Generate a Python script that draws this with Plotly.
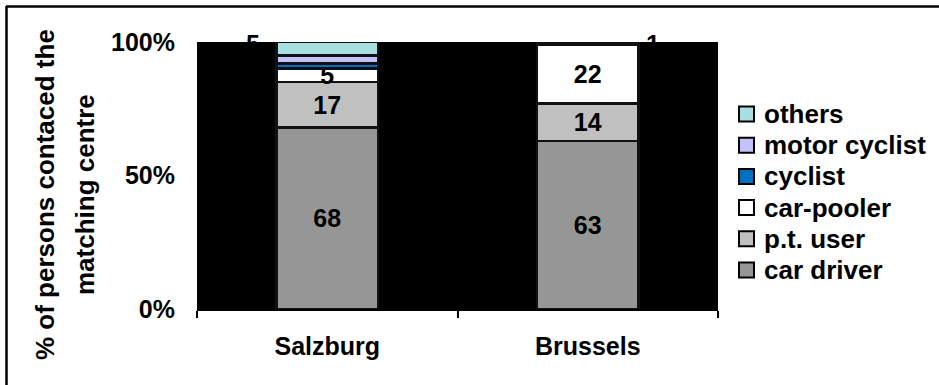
import plotly.graph_objects as go

cities = ["Salzburg", "Brussels"]
series_names = ["car driver", "p.t. user", "car-pooler", "cyclist", "motor cyclist", "others"]
car_driver = [68, 63]
pt_user = [17, 14]
car_pooler = [5, 22]
cyclist = [2, 0]
motor_cyclist = [3, 0]
others = [5, 1]
ytick_vals = [0, 50, 100]
ytick_text = ["0%", "50%", "100%"]
ytitle_lines = ["% of persons contaced the", "matching centre"]

series_values = [car_driver, pt_user, car_pooler, cyclist, motor_cyclist, others]
series_colors = ["#969696", "#C0C0C0", "#FFFFFF", "#0070C0", "#C4C0FA", "#A8E0E0"]
show_inside = [True, True, True, False, False, False]

FONT = "Liberation Sans, Arial, sans-serif"
FS = 25

# layout in pixels
W, H = 939, 385
L, R, T, B = 197, 221, 42, 76
PW, PH = W - L - R, H - T - B


def px(x):
    return (x - L) / PW


def py(y):
    return (H - B - y) / PH


fig = go.Figure()
for name, vals, col, inside in zip(series_names, series_values, series_colors, show_inside):
    fig.add_trace(go.Bar(
        name=name, x=cities, y=vals,
        marker=dict(color=col, line=dict(color="#111111", width=2.5)),
        text=[str(v) if (inside and v) else "" for v in vals],
        textposition="inside", insidetextanchor="middle", textangle=0,
        textfont=dict(family=FONT, size=FS, color="black", weight="bold"),
        cliponaxis=False, showlegend=False,
    ))

# displaced labels of the "others" series (drawn partly behind the black plot area)
for city, v, shift in zip(cities, others, [-74, 65]):
    fig.add_annotation(x=city, y=100, xref="x", yref="y", text=str(v), showarrow=False,
                       xshift=shift, yshift=-2,
                       font=dict(family=FONT, size=FS, color="black", weight="bold"))

# y axis title (two lines)
for line, xc in zip(ytitle_lines, [45, 85]):
    fig.add_annotation(x=px(xc), y=py(195), xref="paper", yref="paper", text=line,
                       textangle=-90, showarrow=False, xanchor="center", yanchor="middle",
                       font=dict(family=FONT, size=26, color="black", weight="bold"))

# legend (top item = last series)
for i, (name, col) in enumerate(zip(series_names[::-1], series_colors[::-1])):
    yc = 114 + 31.2 * i
    fig.add_shape(type="rect", xref="paper", yref="paper",
                  x0=px(739), x1=px(754), y0=py(yc - 7.5), y1=py(yc + 7.5),
                  fillcolor=col, line=dict(color="black", width=2))
    fig.add_annotation(x=px(762), y=py(yc), xref="paper", yref="paper", text=name,
                       showarrow=False, xanchor="left", yanchor="middle",
                       font=dict(family=FONT, size=26, color="black", weight="bold"))

# outer frame (top and left edges only)
fig.add_shape(type="line", xref="paper", yref="paper", x0=px(6), x1=px(W + 5), y0=py(6.5), y1=py(6.5),
              line=dict(color="black", width=2.5))
fig.add_shape(type="line", xref="paper", yref="paper", x0=px(6.5), x1=px(6.5), y0=py(6), y1=py(H + 5),
              line=dict(color="black", width=2.5))

fig.update_layout(
    width=W, height=H,
    margin=dict(l=L, r=R, t=T, b=B, pad=0),
    barmode="stack", barnorm="percent", bargap=0.61,
    plot_bgcolor="black", paper_bgcolor="white",
    font=dict(family=FONT, size=FS, color="black", weight="bold"),
    uniformtext=dict(mode="show", minsize=FS),
    showlegend=False,
    xaxis=dict(showline=True, linecolor="black", linewidth=1.5, ticks="outside",
               tickson="boundaries", ticklen=7, tickcolor="black", tickwidth=1.5,
               showgrid=False, zeroline=False, ticklabelstandoff=14,
               tickfont=dict(family=FONT, size=FS, color="black", weight="bold")),
    yaxis=dict(range=[0, 100], tickvals=ytick_vals, ticktext=ytick_text,
               showgrid=False, zeroline=False, showline=False, ticks="",
               ticklabelstandoff=21,
               tickfont=dict(family=FONT, size=FS, color="black", weight="bold")),
)

fig.write_html("out.html")
